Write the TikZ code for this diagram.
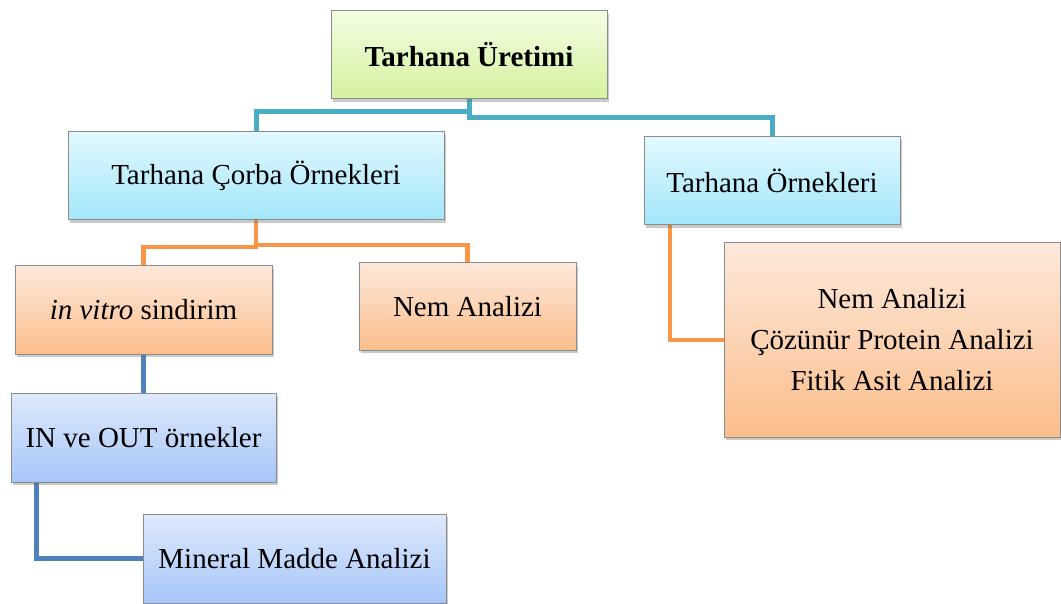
\documentclass[tikz,border=0pt]{standalone}
\usepackage{fontspec}
\setmainfont{Liberation Serif}
\usetikzlibrary{shadows,backgrounds}
\definecolor{tealline}{HTML}{4BACC6}
\definecolor{orangeline}{HTML}{F79646}
\definecolor{blueline}{HTML}{4F81BD}
\definecolor{greentop}{HTML}{F3FDE2}
\definecolor{greenbot}{HTML}{D4F2A0}
\definecolor{cyantop}{HTML}{E2F8FE}
\definecolor{cyanbot}{HTML}{A2E6FA}
\definecolor{orangetop}{HTML}{FDE8DA}
\definecolor{orangebot}{HTML}{FBBE8C}
\definecolor{bluetop}{HTML}{DFE9FC}
\definecolor{bluebot}{HTML}{A7C6F8}
\definecolor{boxborder}{HTML}{8C8C8C}
\tikzset{
  box/.style={rectangle, draw=boxborder, line width=1pt, inner sep=0pt,
    font=\fontsize{29}{41}\selectfont, align=center,
    drop shadow={shadow xshift=2pt, shadow yshift=-3pt, opacity=0.35, fill=black!60}},
  greenbox/.style={box, top color=greentop, bottom color=greenbot},
  cyanbox/.style={box, top color=cyantop, bottom color=cyanbot},
  orangebox/.style={box, top color=orangetop, bottom color=orangebot},
  bluebox/.style={box, top color=bluetop, bottom color=bluebot},
  tl/.style={draw=tealline, line width=5pt},
  ol/.style={draw=orangeline, line width=4.5pt},
  bl/.style={draw=blueline, line width=5pt},
}
\begin{document}
\begin{tikzpicture}[x=1pt, y=-1pt]
\useasboundingbox (0,0) rectangle (1061,604);
\path (469,55) node[greenbox, minimum width=276pt, minimum height=88pt] (top) {\textbf{Tarhana Üretimi}};
\path (256,176) node[cyanbox, minimum width=376pt, minimum height=88pt] (cor) {Tarhana Çorba Örnekleri};
\path (772,181) node[cyanbox, minimum width=256pt, minimum height=88pt] (orn) {Tarhana Örnekleri};
\path (143.5,310) node[orangebox, minimum width=257pt, minimum height=88pt] (vitro) {\textit{in vitro} sindirim};
\path (467.5,306.5) node[orangebox, minimum width=217pt, minimum height=87pt] (nem) {Nem Analizi};
\path (892,340) node[orangebox, minimum width=336pt, minimum height=194pt] (big) {Nem Analizi\\Çözünür Protein Analizi\\Fitik Asit Analizi};
\path (143.5,437.5) node[bluebox, minimum width=265pt, minimum height=89pt] (inout) {IN ve OUT örnekler};
\path (294.5,558.5) node[bluebox, minimum width=303pt, minimum height=89pt] (min) {Mineral Madde Analizi};
\begin{pgfonlayer}{background}
\coordinate (tj) at (top.south |- 0,112);
\draw[tl] (top.south) -- (tj) -| (cor.north);
\draw[tl] (tj) -- (top.south |- 0,118) -| (orn.north);
\coordinate (oj) at (cor.south |- 0,247);
\draw[ol] (cor.south) -- (oj) -| (vitro.north);
\draw[ol] (cor.south |- 0,245) -| (nem.north);
\draw[ol] (orn.south -| 670,0) |- (big.west);
\draw[bl] (vitro.south) -- (inout.north);
\draw[bl] (inout.south -| 36,0) |- (min.west);
\end{pgfonlayer}
\end{tikzpicture}
\end{document}
